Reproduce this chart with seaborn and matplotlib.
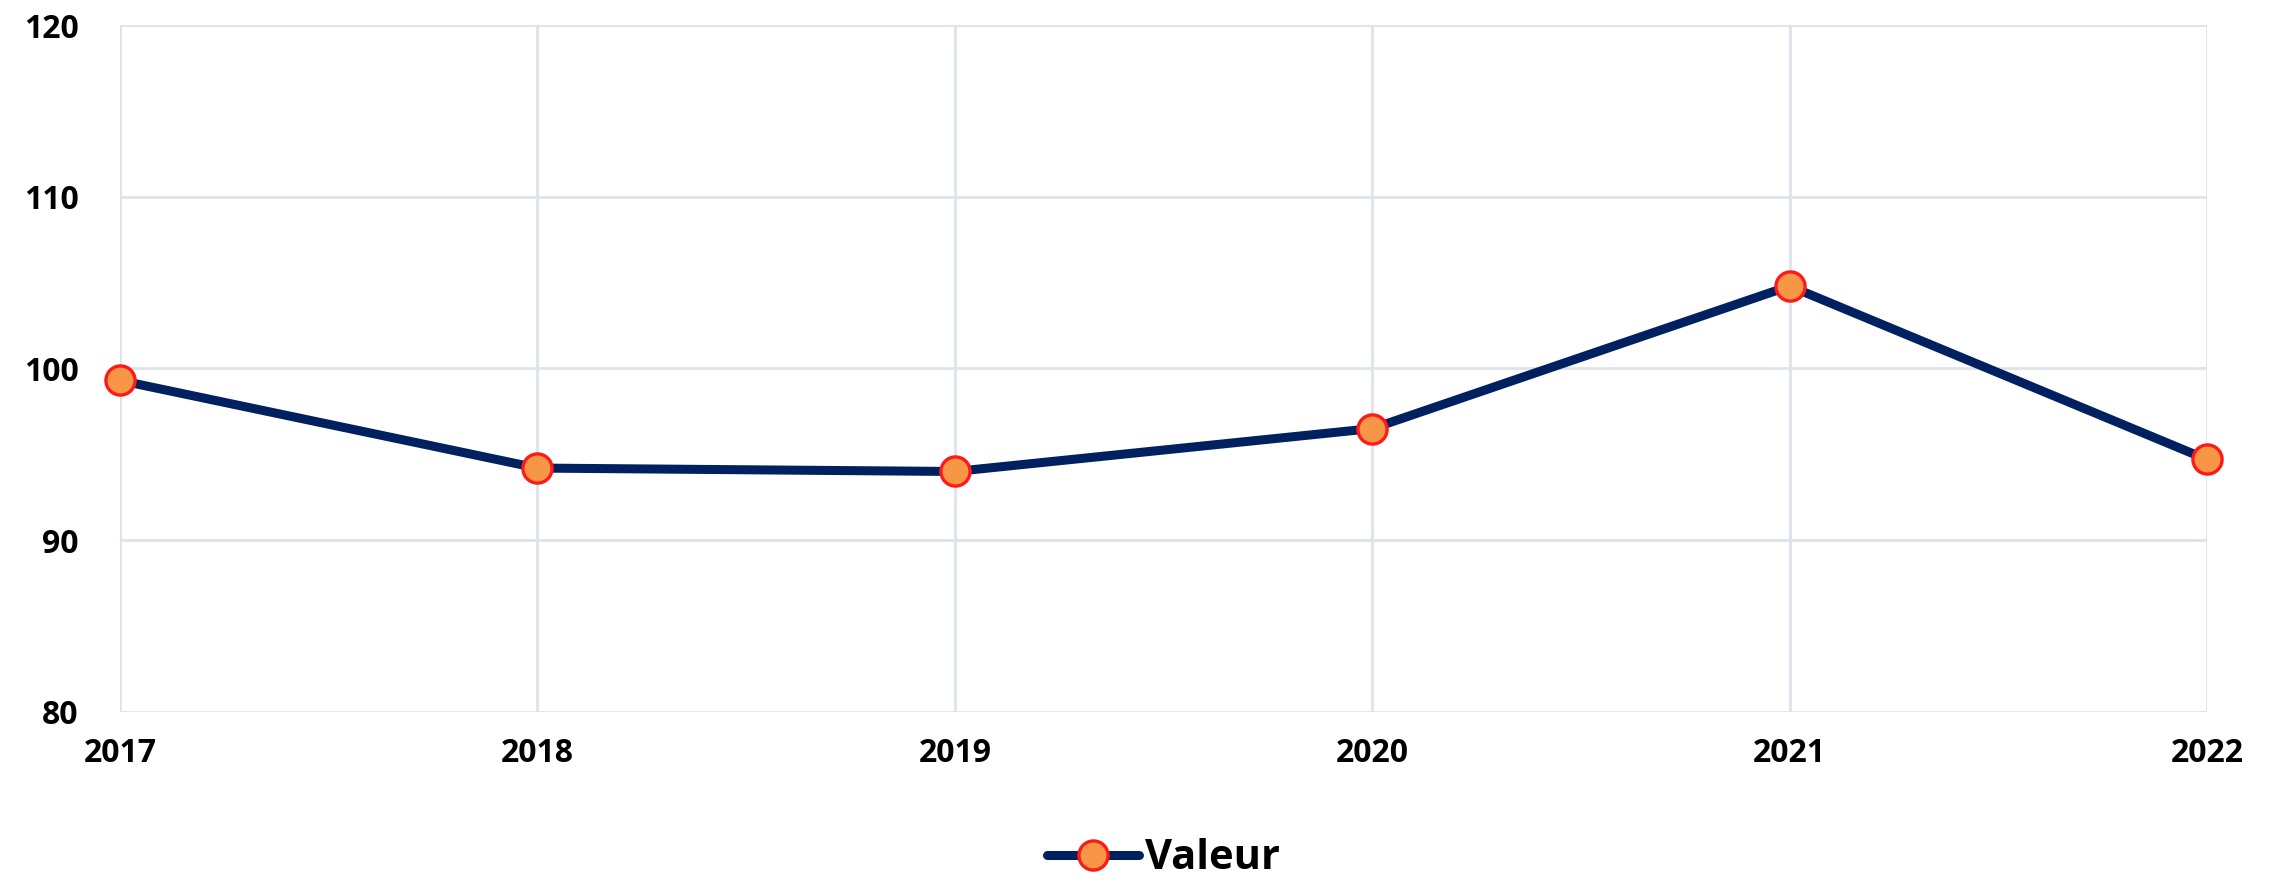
import matplotlib
matplotlib.use("Agg")
import matplotlib.pyplot as plt
import seaborn as sns
import pandas as pd

years = [2017, 2018, 2019, 2020, 2021, 2022]
valeur = [99.3, 94.2, 94.0, 96.5, 104.8, 94.7]
series_name = "Valeur"
y_ticks = [80, 90, 100, 110, 120]

sns.set_theme(style="white")
plt.rcParams['font.family'] = ['Open Sans', 'DejaVu Sans']
plt.rcParams['text.color'] = 'black'
plt.rcParams['xtick.color'] = 'black'
plt.rcParams['ytick.color'] = 'black'

df = pd.DataFrame({"Année": years, series_name: valeur})

fig = plt.figure(figsize=(22.79, 8.81), dpi=100)
ax = fig.add_axes([0.0527, 0.192, 0.9157, 0.7795])

grid_c = "#DCE3EC"
sns.lineplot(data=df, x="Année", y=series_name, ax=ax, color="#002060",
             linewidth=6.5, marker="o", markersize=21, markerfacecolor="#F79646",
             markeredgecolor="#FF1A1A", markeredgewidth=2.4, label=series_name,
             zorder=5, clip_on=False)

ax.set_xlim(years[0], years[-1])
ax.set_ylim(y_ticks[0], y_ticks[-1])
ax.set_xticks(years)
ax.set_yticks(y_ticks)
ax.set_xticklabels([str(y) for y in years])
ax.grid(True, color=grid_c, linewidth=2)
for s in ax.spines.values():
    s.set_visible(False)
ax.tick_params(axis="x", length=10, width=2, color=grid_c, labelcolor="black", pad=8, labelsize=23)
ax.tick_params(axis="y", length=0, pad=30, labelcolor="black", labelsize=23)
for lab in ax.get_xticklabels() + ax.get_yticklabels():
    lab.set_fontweight("bold")
ax.set_xlabel("")
ax.set_ylabel("")

leg = ax.legend(loc="upper center", bbox_to_anchor=(0.5, -0.16), frameon=False,
                prop={"size": 30, "weight": "bold"}, handlelength=2.2,
                handletextpad=0.15, borderaxespad=0)
for t in leg.get_texts():
    t.set_color("black")

fig.savefig("out.png", dpi=100)
